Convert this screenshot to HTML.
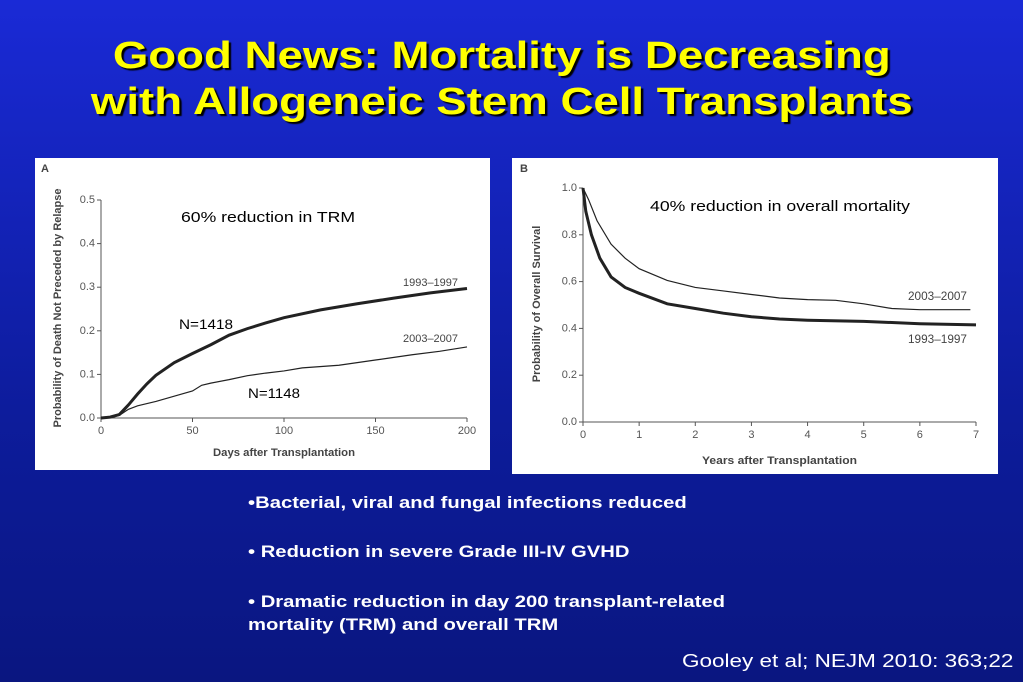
<!DOCTYPE html>
<html><head><meta charset="utf-8"><style>
body{margin:0;width:1023px;height:682px;overflow:hidden;background:linear-gradient(#1a2ad6,#0d1c9c 60%,#0a1680);font-family:"Liberation Sans",sans-serif;position:relative}
.t{position:absolute;left:0;width:1003px;text-align:center;color:#ffff00;font-weight:bold;font-size:38px;text-shadow:2px 2px 1px #000;line-height:46px;transform:scaleX(1.2);transform-origin:500px 0}
.b{position:absolute;color:#fff;font-weight:bold;font-size:17px;left:248px;transform:scaleX(1.19);transform-origin:0 0;white-space:nowrap}
svg text{font-family:"Liberation Sans",sans-serif}
</style></head><body>
<div class="t" style="top:33px">Good News: Mortality is Decreasing<br>with Allogeneic Stem Cell Transplants</div>
<svg id="A" style="position:absolute;left:35px;top:158px" width="455" height="312"></svg>
<svg id="B" style="position:absolute;left:512px;top:158px" width="486" height="316"></svg>
<div class="b" style="top:493px">•Bacterial, viral and fungal infections reduced</div>
<div class="b" style="top:542px">• Reduction in severe Grade III-IV GVHD</div>
<div class="b" style="top:590px;line-height:23px">• Dramatic reduction in day 200 transplant-related<br>mortality (TRM) and overall TRM</div>
<div style="position:absolute;left:682px;top:651px;color:#fff;font-size:18px;transform:scaleX(1.25);transform-origin:0 0;white-space:nowrap">Gooley et al; NEJM 2010: 363;22</div>
<script>
const aDays93=[0,5,10,15,20,25,30,40,50,60,70,80,90,100,120,140,160,180,200];
const aVals93=[0,0.002,0.008,0.03,0.055,0.078,0.098,0.127,0.148,0.168,0.19,0.205,0.218,0.23,0.248,0.262,0.275,0.287,0.297];
const aDays03=[0,10,15,20,30,40,50,55,60,70,80,90,100,110,130,150,170,185,200];
const aVals03=[0,0.006,0.02,0.028,0.038,0.05,0.062,0.075,0.08,0.088,0.097,0.103,0.108,0.115,0.121,0.133,0.145,0.153,0.163];
const aXTicks=[0,50,100,150,200];
const aYTicks=[0,0.1,0.2,0.3,0.4,0.5];
const bYears03=[0,0.1,0.25,0.5,0.75,1,1.5,2,2.5,3,3.5,4,4.5,5,5.5,6,6.9];
const bVals03=[1,0.95,0.86,0.76,0.7,0.655,0.605,0.575,0.56,0.545,0.53,0.523,0.52,0.505,0.485,0.48,0.48];
const bYears93=[0,0.05,0.15,0.3,0.5,0.75,1,1.5,2,2.5,3,3.5,4,5,6,7];
const bVals93=[1,0.9,0.8,0.7,0.62,0.575,0.55,0.505,0.485,0.465,0.45,0.44,0.435,0.43,0.42,0.415];
const bXTicks=[0,1,2,3,4,5,6,7];
const bYTicks=[0,0.2,0.4,0.6,0.8,1.0];
const NS='http://www.w3.org/2000/svg';
function mk(svg,tag,at,txt){const e=document.createElementNS(NS,tag);for(const k in at)e.setAttribute(k,at[k]);if(txt!=null)e.textContent=txt;svg.appendChild(e);return e;}
function chart(id,o){
 const s=document.getElementById(id);
 mk(s,'rect',{x:0,y:0,width:s.getAttribute('width'),height:s.getAttribute('height'),fill:'#fff'});
 const X=v=>o.x0+(v-o.xmin)/(o.xmax-o.xmin)*(o.x1-o.x0);
 const Y=v=>o.y0-(v-o.ymin)/(o.ymax-o.ymin)*(o.y0-o.y1);
 let l=mk(s,'line',{x1:o.x0,y1:o.y0,x2:o.x0,y2:o.y1,stroke:'#555'});
 
 l=mk(s,'line',{x1:o.x0,y1:o.y0,x2:o.x1,y2:o.y0,stroke:'#555'});
 
 o.xt.forEach(v=>{mk(s,'line',{x1:X(v),x2:X(v),y1:o.y0,y2:o.y0+4,stroke:'#555'});
  const t=mk(s,'text',{x:X(v),y:o.y0+16,'text-anchor':'middle','font-size':11,fill:'#555'},v);
  });
 o.yt.forEach(v=>{mk(s,'line',{x1:o.x0-4,x2:o.x0,y1:Y(v),y2:Y(v),stroke:'#555'});
  const t=mk(s,'text',{x:o.x0-6,y:Y(v)+3,'text-anchor':'end','font-size':11,fill:'#555'},v.toFixed(1));
  });
 o.series.forEach(se=>{const p=mk(s,'polyline',{points:se.x.map((v,i)=>X(v)+','+Y(se.y[i])).join(' '),fill:'none',stroke:'#222','stroke-width':se.w});
  });
 return s;
}
const A=chart('A',{x0:66,x1:432,xmin:0,xmax:200,y0:260,y1:42,ymin:0,ymax:0.5,xt:aXTicks,yt:aYTicks,
 series:[{x:aDays93,y:aVals93,w:3,name:'line-1993-1997'},{x:aDays03,y:aVals03,w:1.2,name:'line-2003-2007'}]});
const B=chart('B',{x0:71,x1:464,xmin:0,xmax:7,y0:264,y1:30,ymin:0,ymax:1,xt:bXTicks,yt:bYTicks,
 series:[{x:bYears93,y:bVals93,w:3,name:'line-1993-1997'},{x:bYears03,y:bVals03,w:1.2,name:'line-2003-2007'}]});
function tx(s,x,y,t,at,name){const e=mk(s,'text',Object.assign({x:x,y:y},at),t);if(at.textLength)e.setAttribute('lengthAdjust','spacingAndGlyphs');}
const b={'font-weight':'bold','font-size':11,fill:'#444'};
tx(A,6,14,'A',b,'panel-label');
tx(A,178,298,'Days after Transplantation',Object.assign({textLength:142},b),'x-axis-title');
tx(A,0,0,'Probability of Death Not Preceded by Relapse',Object.assign({transform:'translate(26,150) rotate(-90)','text-anchor':'middle','font-size':10},b),'y-axis-title');
tx(A,146,64,'60% reduction in TRM',{'font-size':15,fill:'#000',textLength:174},'annotation-trm');
tx(A,144,171,'N=1418',{'font-size':14,fill:'#000',textLength:54},'n-1993');
tx(A,213,240,'N=1148',{'font-size':14,fill:'#000',textLength:52},'n-2003');
tx(A,368,128,'1993–1997',{'font-size':11,fill:'#444',textLength:55},'label-1993');
tx(A,368,184,'2003–2007',{'font-size':11,fill:'#444',textLength:55},'label-2003');
tx(B,8,14,'B',b,'panel-label');
tx(B,190,306,'Years after Transplantation',Object.assign({textLength:155},b),'x-axis-title');
tx(B,0,0,'Probability of Overall Survival',Object.assign({transform:'translate(28,146) rotate(-90)','text-anchor':'middle','font-size':11},b),'y-axis-title');
tx(B,138,53,'40% reduction in overall mortality',{'font-size':15,fill:'#000',textLength:260},'annotation-mortality');
tx(B,396,142,'2003–2007',{'font-size':12,fill:'#444',textLength:59},'label-2003');
tx(B,396,185,'1993–1997',{'font-size':12,fill:'#444',textLength:59},'label-1993');
</script>
</body></html>
